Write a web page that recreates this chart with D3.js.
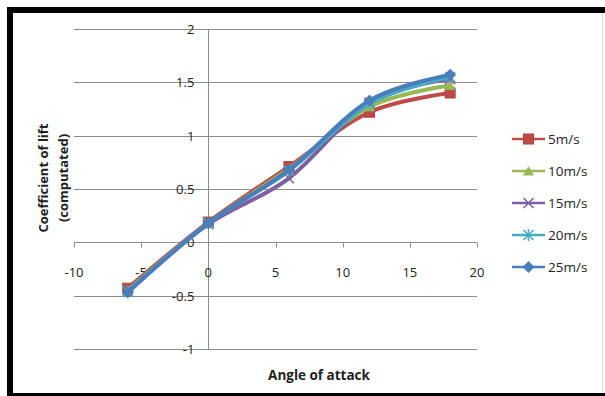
<!DOCTYPE html>
<html>
<head>
<meta charset="utf-8">
<script src="https://cdn.jsdelivr.net/npm/d3@7"></script>
<style>
  html, body { margin: 0; padding: 0; background: #fff; }
  svg { display: block; }
  text { font-family: "Open Sans", "Liberation Sans", sans-serif; }
</style>
</head>
<body>
<svg id="chart" width="605" height="396"></svg>
<script>
// Angle of attack (degrees) at which lift was computed
const angles = [-6, 0, 6, 12, 18];

// Lift coefficient per free-stream velocity
const cl5  = [-0.43, 0.19, 0.71, 1.22, 1.40];
const cl10 = [-0.45, 0.18, 0.69, 1.27, 1.47];
const cl15 = [-0.46, 0.17, 0.60, 1.31, 1.53];
const cl20 = [-0.46, 0.18, 0.67, 1.30, 1.55];
const cl25 = [-0.47, 0.18, 0.68, 1.33, 1.57];

const seriesNames = ["5m/s", "10m/s", "15m/s", "20m/s", "25m/s"];
const seriesValues = [cl5, cl10, cl15, cl20, cl25];
const seriesColors = ["#BE4B48", "#98B954", "#7D60A0", "#46AAC5", "#4A7EBB"];
const seriesMarkers = ["square", "triangle", "cross", "star", "diamond"];

const xTicks = [-10, -5, 0, 5, 10, 15, 20];
const yTicks = [-1, -0.5, 0, 0.5, 1, 1.5, 2];

const svg = d3.select("#chart");

// outer frame
svg.append("rect").attr("x", 10).attr("y", 10).attr("width", 600).attr("height", 386)
  .attr("fill", "none").attr("stroke", "#000").attr("stroke-width", 6);
svg.append("line").attr("x1", 602.5).attr("x2", 602.5).attr("y1", 13).attr("y2", 393)
  .attr("stroke", "#d8d8d8").attr("stroke-width", 1);

const x = d3.scaleLinear().domain([-10, 20]).range([74, 477]);
const y = d3.scaleLinear().domain([-1, 2]).range([349, 29]);

// horizontal gridlines
svg.append("g").selectAll("line").data(yTicks).join("line")
  .attr("x1", x(-10)).attr("x2", x(20))
  .attr("y1", d => Math.round(y(d)) + 0.5).attr("y2", d => Math.round(y(d)) + 0.5)
  .attr("stroke", "#8c8c8c").attr("stroke-width", 1);

// vertical axis through x = 0
svg.append("line")
  .attr("x1", Math.round(x(0)) + 0.5).attr("x2", Math.round(x(0)) + 0.5)
  .attr("y1", y(2)).attr("y2", y(-1))
  .attr("stroke", "#8c8c8c").attr("stroke-width", 1);

// horizontal axis ticks
const y0 = Math.round(y(0)) + 0.5;
svg.append("g").selectAll("line").data(xTicks).join("line")
  .attr("x1", d => Math.round(x(d)) + 0.5).attr("x2", d => Math.round(x(d)) + 0.5)
  .attr("y1", y0).attr("y2", y0 + 5)
  .attr("stroke", "#8c8c8c").attr("stroke-width", 1);

// tick labels
svg.append("g").selectAll("text").data(xTicks).join("text")
  .attr("x", d => x(d)).attr("y", y(0) + 35)
  .attr("text-anchor", "middle").attr("font-size", 13).attr("fill", "#222")
  .text(d => d);

svg.append("g").selectAll("text").data(yTicks).join("text")
  .attr("x", x(0) - 14).attr("y", d => y(d) + 5)
  .attr("text-anchor", "end").attr("font-size", 13).attr("fill", "#222")
  .text(d => d);

// axis titles
svg.append("text").attr("x", 319).attr("y", 380)
  .attr("text-anchor", "middle").attr("font-size", 13.5).attr("font-weight", "bold").attr("fill", "#222")
  .text("Angle of attack");

const yt = svg.append("text").attr("transform", "translate(48,178) rotate(-90)")
  .attr("text-anchor", "middle").attr("font-size", 13).attr("font-weight", "bold").attr("fill", "#222");
yt.append("tspan").attr("x", 0).attr("dy", 0).text("Coefficient of lift");
yt.append("tspan").attr("x", 0).attr("dy", 20).text("(computated)");

// marker drawing
function drawMarker(g, kind, color, cx, cy) {
  const m = g.append("g").attr("transform", `translate(${cx},${cy})`);
  if (kind === "square") {
    m.append("rect").attr("x", -5).attr("y", -5).attr("width", 10).attr("height", 10)
      .attr("fill", color).attr("stroke", d3.color(color).darker(0.3)).attr("stroke-width", 1);
  } else if (kind === "triangle") {
    m.append("path").attr("d", "M0,-5L5.5,4.5L-5.5,4.5Z").attr("fill", color);
  } else if (kind === "cross") {
    m.append("path").attr("d", "M-5,-5L5,5M-5,5L5,-5").attr("stroke", color).attr("stroke-width", 1.5);
  } else if (kind === "star") {
    m.append("path").attr("d", "M-5,-5L5,5M-5,5L5,-5M0,-6L0,6").attr("stroke", color).attr("stroke-width", 1.5);
  } else if (kind === "diamond") {
    m.append("path").attr("d", "M0,-6L6,0L0,6L-6,0Z").attr("fill", color);
  }
}

// smoothed series lines with markers
const line = d3.line().x(d => x(d[0])).y(d => y(d[1])).curve(d3.curveCatmullRom.alpha(0));
const plot = svg.append("g");
seriesValues.forEach((vals, i) => {
  const pts = angles.map((a, j) => [a, vals[j]]);
  const g = plot.append("g");
  g.append("path").datum(pts).attr("d", line)
    .attr("fill", "none").attr("stroke", seriesColors[i]).attr("stroke-width", 4)
    .attr("stroke-linejoin", "round").attr("stroke-linecap", "round");
  pts.forEach(p => drawMarker(g, seriesMarkers[i], seriesColors[i], x(p[0]), y(p[1])));
});

// legend
const legend = svg.append("g");
seriesNames.forEach((name, i) => {
  const ly = 139 + i * 32;
  const g = legend.append("g");
  g.append("line").attr("x1", 512).attr("x2", 545).attr("y1", ly).attr("y2", ly)
    .attr("stroke", seriesColors[i]).attr("stroke-width", 2.5);
  drawMarker(g, seriesMarkers[i], seriesColors[i], 528.5, ly);
  g.append("text").attr("x", 548).attr("y", ly + 5)
    .attr("font-size", 13.5).attr("fill", "#222").text(name);
});
</script>
</body>
</html>
